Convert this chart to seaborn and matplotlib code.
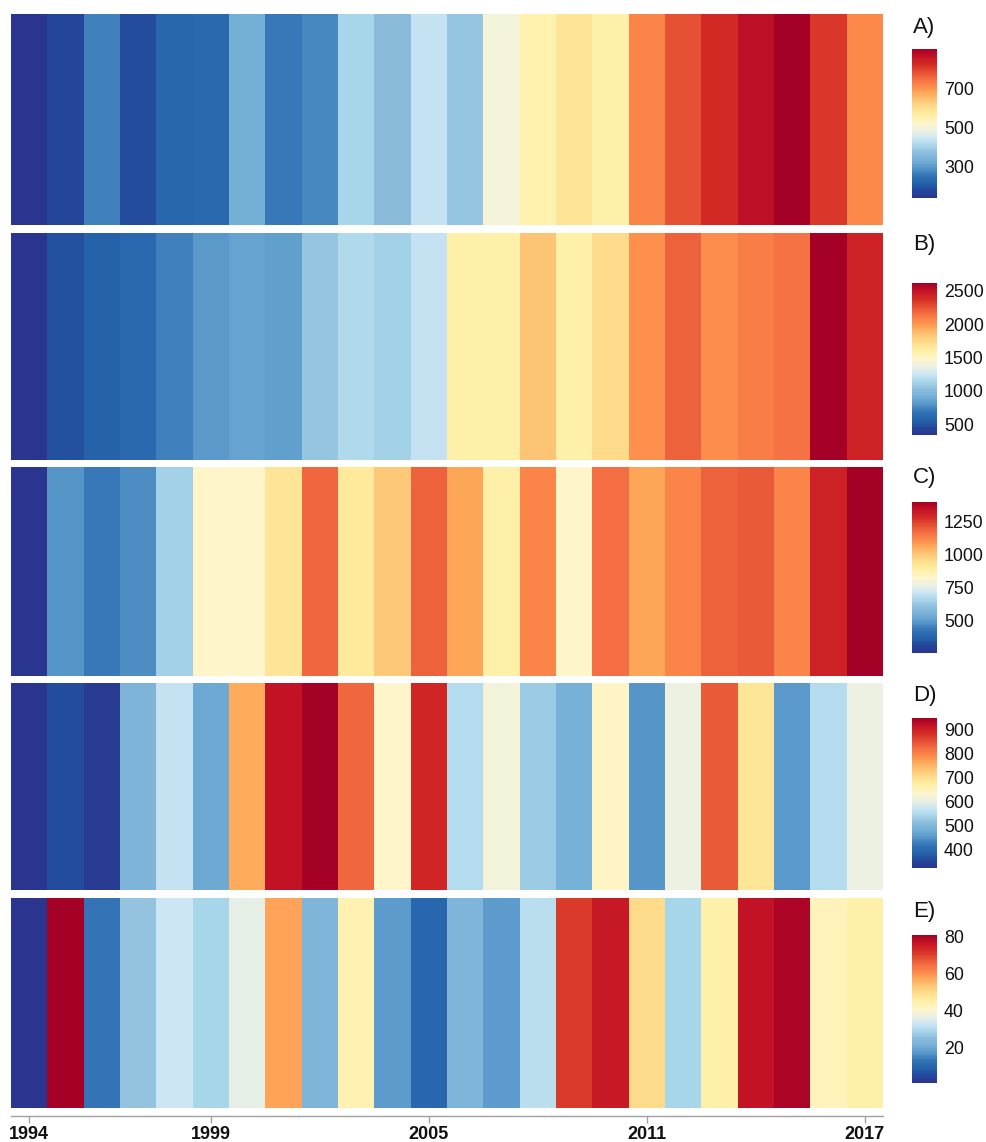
import numpy as np
import pandas as pd
import matplotlib
matplotlib.use("Agg")
import matplotlib.pyplot as plt
from matplotlib.colors import LinearSegmentedColormap
import seaborn as sns

sns.set_theme(style="white")
plt.rcParams["font.family"] = ["Liberation Sans", "DejaVu Sans"]

years = list(range(1994, 2018))

series_a = [135, 174, 266, 181, 220, 227, 328, 258, 274, 405, 366, 435,
            381, 497, 551, 589, 559, 720, 782, 828, 874, 905, 813, 713]
series_b = [335, 495, 563, 609, 723, 814, 859, 837, 1065, 1156, 1110, 1224,
            1589, 1589, 1840, 1589, 1726, 2022, 2205, 2034, 2091, 2136, 2615, 2433]
series_c = [257, 486, 440, 474, 646, 829, 829, 931, 1183, 909, 1000, 1194,
            1069, 886, 1126, 829, 1171, 1069, 1126, 1194, 1206, 1126, 1309, 1400]
series_d = [325, 363, 338, 494, 569, 475, 763, 919, 950, 831, 638, 894,
            556, 619, 531, 488, 644, 450, 606, 844, 688, 456, 556, 606]
series_e = [1, 81, 13, 26, 33, 29, 36, 58, 23, 44, 18, 10,
            23, 18, 31, 71, 76, 50, 29, 45, 77, 80, 43, 45]

panel_labels = ["A)", "B)", "C)", "D)", "E)"]
cbar_ticks = [
    [300, 500, 700],
    [500, 1000, 1500, 2000, 2500],
    [500, 750, 1000, 1250],
    [400, 500, 600, 700, 800, 900],
    [20, 40, 60, 80],
]
year_ticks = [1994, 1999, 2005, 2011, 2017]

stripe_colors = ["#2a3590", "#24479b", "#2563ab", "#3473b5", "#5595c8",
                 "#74afd6", "#8bbcdb", "#a8d5ea", "#cce6f4", "#ecf1e2",
                 "#fef5cc", "#fff0a8", "#fee090", "#fec97a", "#fead5c",
                 "#fd8a4a", "#f46d43", "#e34e31", "#d42a24", "#c41426", "#a50026"]
cmap = LinearSegmentedColormap.from_list("stripes", stripe_colors)

W, H = 987, 1142
fig = plt.figure(figsize=(W / 100, H / 100), dpi=100)


def rect(x0, y0, x1, y1):
    return [x0 / W, 1 - y1 / H, (x1 - x0) / W, (y1 - y0) / H]


panel_px = [(14, 225), (233, 460), (467, 676), (683, 890), (898, 1108)]
cbar_px = [(49, 198), (283, 435), (502, 653), (718, 868), (935, 1083)]
label_y = [27, 245, 478, 696, 912]

all_series = [series_a, series_b, series_c, series_d, series_e]

for i, values in enumerate(all_series):
    y0, y1 = panel_px[i]
    ax = fig.add_axes(rect(11, y0, 883, y1))
    c0, c1 = cbar_px[i]
    cax = fig.add_axes(rect(912, c0, 937, c1))
    df = pd.DataFrame([values], columns=years)
    sns.heatmap(df, ax=ax, cmap=cmap, cbar_ax=cax,
                xticklabels=False, yticklabels=False, linewidths=0)
    ax.set_xlabel("")
    ax.set_ylabel("")
    for s in ax.spines.values():
        s.set_visible(False)
    cax.set_yticks(cbar_ticks[i])
    cax.set_yticklabels([str(t) for t in cbar_ticks[i]], fontsize=12.8, color="#111111")
    cax.tick_params(axis="y", direction="in", length=4, width=0.8,
                    color="white", pad=5, right=True, left=True)
    for s in cax.spines.values():
        s.set_visible(False)
    fig.text(913 / W, 1 - label_y[i] / H, panel_labels[i], fontsize=16,
             ha="left", va="center", color="#111111")

    if i == len(all_series) - 1:
        ax.spines["bottom"].set_visible(True)
        ax.spines["bottom"].set_color("#a0a0a0")
        ax.spines["bottom"].set_linewidth(1.0)
        ax.spines["bottom"].set_position(("outward", 6))
        ax.set_xticks([years.index(y) + 0.5 for y in year_ticks])
        ax.set_xticklabels([str(y) for y in year_ticks], fontsize=13,
                           fontweight="bold", rotation=0, color="#111111")
        ax.tick_params(axis="x", bottom=True, length=5, width=1.0,
                       color="#a0a0a0", pad=2)

fig.savefig("out.png", dpi=100)
